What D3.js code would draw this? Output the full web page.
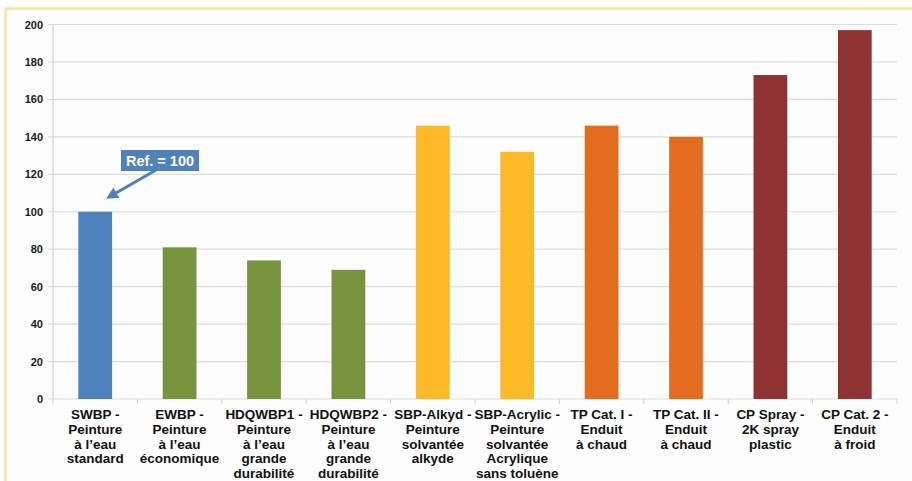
<!DOCTYPE html>
<html><head><meta charset="utf-8">
<script src="https://cdn.jsdelivr.net/npm/d3@7"></script>
<style>body{margin:0;background:#fff}svg{display:block}</style>
</head><body>
<script>
const categories = [
  ["SWBP -","Peinture","à l’eau","standard"],
  ["EWBP -","Peinture","à l’eau","économique"],
  ["HDQWBP1 -","Peinture","à l’eau","grande","durabilité"],
  ["HDQWBP2 -","Peinture","à l’eau","grande","durabilité"],
  ["SBP-Alkyd -","Peinture","solvantée","alkyde"],
  ["SBP-Acrylic -","Peinture","solvantée","Acrylique","sans toluène"],
  ["TP Cat. I -","Enduit","à chaud"],
  ["TP Cat. II -","Enduit","à chaud"],
  ["CP Spray -","2K spray","plastic"],
  ["CP Cat. 2 -","Enduit","à froid"]
];
const values = [100, 81, 74, 69, 146, 132, 146, 140, 173, 197];
const colors = ["#4F81BD","#77933C","#77933C","#77933C","#FDB927","#FDB927","#E46C1E","#E46C1E","#8E3234","#8E3234"];
const yTicks = [0,20,40,60,80,100,120,140,160,180,200];
const annotation = "Ref. = 100";

const W = 912, H = 481;
const svg = d3.select("body").append("svg").attr("width", W).attr("height", H);

// frame
svg.append("rect").attr("x",0).attr("y",0).attr("width",W).attr("height",H).attr("fill","#fff");
svg.append("rect").attr("x",5.5).attr("y",8.5).attr("width",W+10).attr("height",H+10)
  .attr("fill","#fdfdfd").attr("stroke","#FBE7A1").attr("stroke-width",2.5);

const pL = 53, pR = 897, pT = 24.5, pB = 399;
const idx = categories.map((d,i)=>i);
const x = d3.scaleBand().domain(idx).range([pL,pR]).paddingInner(0.6).paddingOuter(0.3);
const y = d3.scaleLinear().domain([0,200]).range([pB, pT]);

// gridlines
svg.append("g").selectAll("line").data(yTicks).join("line")
  .attr("x1", pL-5).attr("x2", pR)
  .attr("y1", d=>y(d)).attr("y2", d=>y(d))
  .attr("stroke","#dcdcdc").attr("stroke-width",1.2);
// y axis line
svg.append("line").attr("x1",pL).attr("x2",pL).attr("y1",pT).attr("y2",pB)
  .attr("stroke","#d0d0d0").attr("stroke-width",1.2);
// x tick marks
const bw = (pR-pL)/categories.length;
svg.append("g").selectAll("line").data(d3.range(categories.length+1)).join("line")
  .attr("x1", d=>pL+d*bw).attr("x2", d=>pL+d*bw)
  .attr("y1", pB).attr("y2", pB+5).attr("stroke","#d0d0d0");

// y tick labels
const yAxis = d3.axisLeft(y).tickValues(yTicks).tickSize(0).tickPadding(10);
const ga = svg.append("g").attr("transform",`translate(${pL},0)`).call(yAxis);
ga.select(".domain").remove();
ga.selectAll("text").attr("font-family","Liberation Sans, Arial, sans-serif")
  .attr("font-weight","bold").attr("font-size",11).attr("fill","#1a1a1a");

// bars
svg.append("g").selectAll("rect").data(values).join("rect")
  .attr("x",(d,i)=>x(i)).attr("width",x.bandwidth())
  .attr("y",d=>y(d)).attr("height",d=>pB-y(d))
  .attr("fill",(d,i)=>colors[i]);

// category labels
const lab = svg.append("g").selectAll("text").data(categories).join("text")
  .attr("x",(d,i)=>x(i)+x.bandwidth()/2).attr("y",419)
  .attr("text-anchor","middle").attr("font-family","Liberation Sans, Arial, sans-serif")
  .attr("font-weight","bold").attr("font-size",13.5).attr("fill","#111");
lab.selectAll("tspan").data(d=>d).join("tspan")
  .attr("x",function(){return this.parentNode.getAttribute("x");})
  .attr("dy",(d,i)=>i===0?0:14.8).text(d=>d);

// annotation
const ax = x(0)+x.bandwidth()/2;
const ay = y(values[0]);
const bx = 121, byy = 150;
svg.append("defs").append("marker").attr("id","ah").attr("viewBox","0 0 10 10")
  .attr("refX",5).attr("refY",5).attr("markerWidth",4).attr("markerHeight",4)
  .attr("orient","auto-start-reverse")
  .append("path").attr("d","M0,0 L10,5 L0,10 Z").attr("fill","#4F81BD");
svg.append("line").attr("x1",156).attr("y1",170).attr("x2",ax+16).attr("y2",ay-16)
  .attr("stroke","#4F81BD").attr("stroke-width",3).attr("marker-end","url(#ah)");
svg.append("rect").attr("x",bx).attr("y",byy).attr("width",78).attr("height",21).attr("fill","#4F81BD");
svg.append("text").attr("x",bx+39).attr("y",byy+15.5).attr("text-anchor","middle")
  .attr("font-family","Liberation Sans, Arial, sans-serif").attr("font-weight","bold")
  .attr("font-size",14.5).attr("fill","#fff").text(annotation);
</script>
</body></html>
